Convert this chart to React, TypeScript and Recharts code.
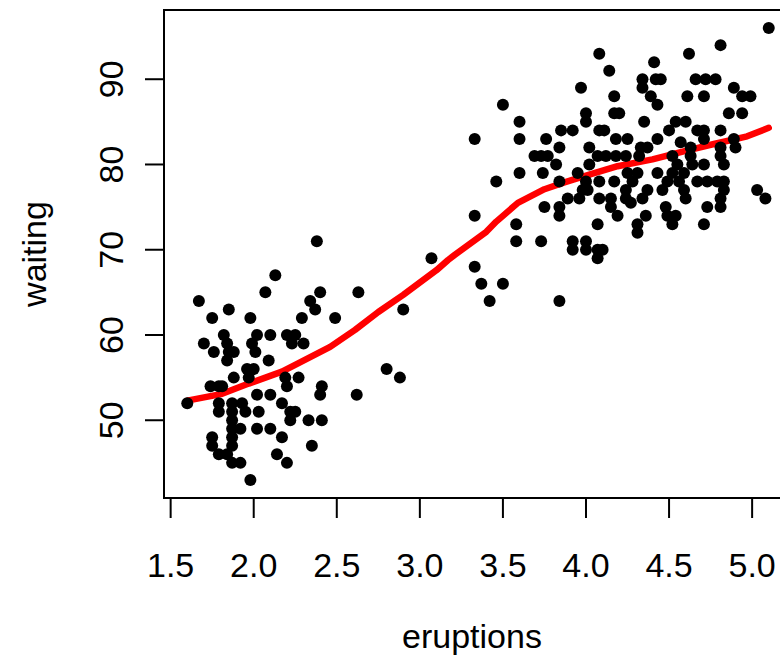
import React from "react";
import {
  ComposedChart,
  Scatter,
  Line,
  XAxis,
  YAxis,
  ReferenceArea,
  Label,
} from "recharts";

// Old Faithful points
const eruptions = [
  2.13, 2.07, 1.67, 1.85, 1.75, 1.98, 1.82, 2.02, 2.1, 2.2, 2.25, 1.7, 1.84, 1.99, 2.23, 2.3,
  1.76, 1.85, 1.88, 2.01, 1.84, 2.09, 1.96, 2.0, 1.88, 1.97, 2.19, 2.27, 1.74, 1.79, 1.81, 2.2,
  2.41, 1.6, 1.79, 1.87, 1.93, 2.17, 2.02, 2.1, 2.4, 2.62, 1.79, 1.87, 1.95, 2.03, 2.22, 2.25,
  1.87, 2.22, 2.33, 2.41, 1.87, 1.92, 2.02, 2.1, 1.75, 1.87, 2.17, 1.75, 1.87, 2.35, 1.79, 1.84,
  2.14, 1.87, 1.92, 2.2, 1.98, 2.38, 3.07, 2.4, 2.63, 2.34, 2.37, 2.29, 2.49, 2.9, 2.8, 2.88,
  3.97, 3.5, 3.6, 3.33, 3.6, 3.76, 3.85, 3.92, 3.84, 3.69, 3.73, 3.77, 3.82, 3.6, 3.74, 3.46,
  3.84, 3.95, 3.89, 3.96, 3.75, 3.84, 3.84, 3.33, 3.58, 3.58, 3.73, 3.92, 3.92, 4.0, 4.0, 3.33,
  3.37, 3.5, 3.42, 3.84, 4.0, 4.0, 4.02, 4.02, 3.98, 4.0,
  4.08, 4.14, 4.41, 4.34, 4.42, 4.45, 4.34, 4.39, 4.43, 4.17, 4.17, 4.2, 4.35, 4.08, 4.11, 4.54,
  4.5, 4.18, 4.25, 4.43, 4.33, 4.37, 4.07, 4.12, 4.18, 4.24, 4.32, 4.25, 4.31, 4.43, 4.08, 4.17,
  4.28, 4.49, 4.56, 4.01, 4.37, 4.46, 4.08, 4.15, 4.24, 4.34, 4.15, 4.48, 4.19, 4.36, 4.49, 4.54,
  4.07, 4.31, 4.31, 4.52, 4.07, 4.1, 4.07, 4.57, 4.52, 4.55, 4.52, 4.24, 4.27,
  5.1, 4.81, 4.62, 4.66, 4.72, 4.78, 4.89, 4.94, 4.99, 4.61, 4.71, 4.86, 4.94, 4.6, 4.67, 4.71,
  4.81, 4.71, 4.89, 4.9, 4.63, 4.81, 4.63, 4.81, 4.71, 4.83, 4.64, 4.59, 4.67, 4.73, 4.79, 4.83,
  4.59, 4.83, 5.03, 5.08, 4.6, 4.81, 4.73, 4.81, 4.71,
];
const waiting = [
  67, 65, 64, 63, 62, 62, 60, 60, 60, 60, 60, 59, 59, 59, 59, 59,
  58, 58, 58, 58, 57, 57, 56, 56, 55, 55, 55, 55, 54, 54, 54, 54,
  54, 52, 52, 52, 52, 52, 53, 53, 53, 53, 51, 51, 51, 51, 51, 51,
  50, 50, 50, 50, 49, 49, 49, 49, 48, 48, 48, 47, 47, 47, 46, 46,
  46, 45, 45, 45, 43, 71, 69, 65, 65, 64, 63, 62, 62, 63, 56, 55,
  89, 87, 85, 83, 83, 83, 84, 84, 82, 81, 81, 81, 80, 79, 79, 78,
  78, 79, 76, 76, 75, 75, 74, 74, 73, 71, 71, 71, 70, 71, 70, 68,
  66, 66, 64, 64, 86, 85, 82, 80, 77, 78,
  93, 91, 92, 90, 90, 90, 89, 88, 87, 88, 86, 86, 85, 84, 84, 85,
  84, 83, 83, 83, 82, 82, 81, 81, 81, 81, 81, 79, 79, 79, 78, 78,
  78, 78, 78, 77, 77, 77, 76, 76, 76, 76, 75, 75, 74, 74, 74, 74,
  73, 73, 72, 73, 70, 70, 69, 82.6, 81, 80, 79, 77, 75.5,
  96, 94, 93, 90, 90, 90, 89, 88, 88, 88, 88, 86, 86, 85, 84, 84,
  84, 83, 83, 82, 82, 82, 81, 81, 80, 80, 80, 79, 78, 78, 78, 78,
  77, 77, 77, 76, 76, 76, 75, 75, 73,
];

// lowess smooth
const smoothX = [
  1.6, 1.81, 1.97, 2.17, 2.27, 2.46, 2.61, 2.75, 2.9, 3.1, 3.17, 3.21, 3.4, 3.46, 3.59, 3.75,
  3.87, 4.02, 4.19, 4.4, 4.6, 4.77, 4.97, 5.1,
];
const smoothY = [
  52.3, 53.1, 54.3, 55.7, 56.7, 58.6, 60.6, 62.7, 64.7, 67.6, 68.8, 69.4, 72.1, 73.3, 75.5, 77.1,
  77.9, 78.8, 79.8, 80.6, 81.6, 82.4, 83.3, 84.3,
];

const xTicks = [1.5, 2.0, 2.5, 3.0, 3.5, 4.0, 4.5, 5.0];
const yTicks = [50, 60, 70, 80, 90];
const xDomain = [1.46, 5.24];
const yDomain = [40.88, 98.12];

const FONT = "'Liberation Sans', Arial, sans-serif";

const points = eruptions.map((e, i) => ({ x: e, y: waiting[i] }));
const smooth = smoothX.map((x, i) => ({ x, y: smoothY[i] }));

const XTick = (props: any) => {
  const { x, y, payload } = props;
  return (
    <text x={x} y={y} dy={59} textAnchor="middle" fontSize={34} fontFamily={FONT} fill="#000">
      {Number(payload.value).toFixed(1)}
    </text>
  );
};

const YTick = (props: any) => {
  const { x, y, payload } = props;
  const bx = x - 22;
  return (
    <text
      x={bx}
      y={y}
      transform={`rotate(-90, ${bx}, ${y})`}
      textAnchor="middle"
      fontSize={34}
      fontFamily={FONT}
      fill="#000"
    >
      {payload.value}
    </text>
  );
};

const Dot = (props: any) => <circle cx={props.cx} cy={props.cy} r={6} fill="#000" />;

export default function App() {
  return (
    <div
      style={{
        position: "absolute",
        left: 0,
        top: 0,
        width: 780,
        height: 665,
        overflow: "hidden",
        background: "#fff",
      }}
    >
      <ComposedChart width={810} height={665} margin={{ top: 10, right: 18, left: 0, bottom: 0 }}>
        <XAxis
          type="number"
          dataKey="x"
          domain={xDomain}
          ticks={xTicks}
          allowDataOverflow
          axisLine={false}
          tickLine={{ stroke: "#000", strokeWidth: 2 }}
          tickSize={20}
          tickMargin={0}
          tick={<XTick />}
          height={167}
          interval={0}
        >
          <Label
            content={(p: any) => {
              const vb = p.viewBox;
              return (
                <text
                  x={vb.x + vb.width / 2 - 6}
                  y={vb.y + 150}
                  textAnchor="middle"
                  fontSize={34}
                  fontFamily={FONT}
                  fill="#000"
                >
                  eruptions
                </text>
              );
            }}
          />
        </XAxis>
        <YAxis
          type="number"
          dataKey="y"
          domain={yDomain}
          ticks={yTicks}
          allowDataOverflow
          axisLine={false}
          tickLine={{ stroke: "#000", strokeWidth: 2 }}
          tickSize={19}
          tickMargin={0}
          tick={<YTick />}
          width={164}
          interval={0}
        >
          <Label
            content={(p: any) => {
              const vb = p.viewBox;
              const cx = 46;
              const cy = vb.y + vb.height / 2;
              return (
                <text
                  x={cx}
                  y={cy}
                  transform={`rotate(-90, ${cx}, ${cy})`}
                  textAnchor="middle"
                  fontSize={34}
                  fontFamily={FONT}
                  fill="#000"
                >
                  waiting
                </text>
              );
            }}
          />
        </YAxis>
        <Scatter data={points} dataKey="y" shape={<Dot />} isAnimationActive={false} />
        <Line
          data={smooth}
          dataKey="y"
          type="linear"
          stroke="#FF0000"
          strokeWidth={6.5}
          strokeLinecap="round"
          strokeLinejoin="round"
          dot={false}
          isAnimationActive={false}
        />
        <ReferenceArea
          x1={xDomain[0]}
          x2={xDomain[1]}
          y1={yDomain[0]}
          y2={yDomain[1]}
          fill="none"
          fillOpacity={0}
          stroke="#000"
          strokeWidth={2}
          ifOverflow="visible"
        />
      </ComposedChart>
    </div>
  );
}
